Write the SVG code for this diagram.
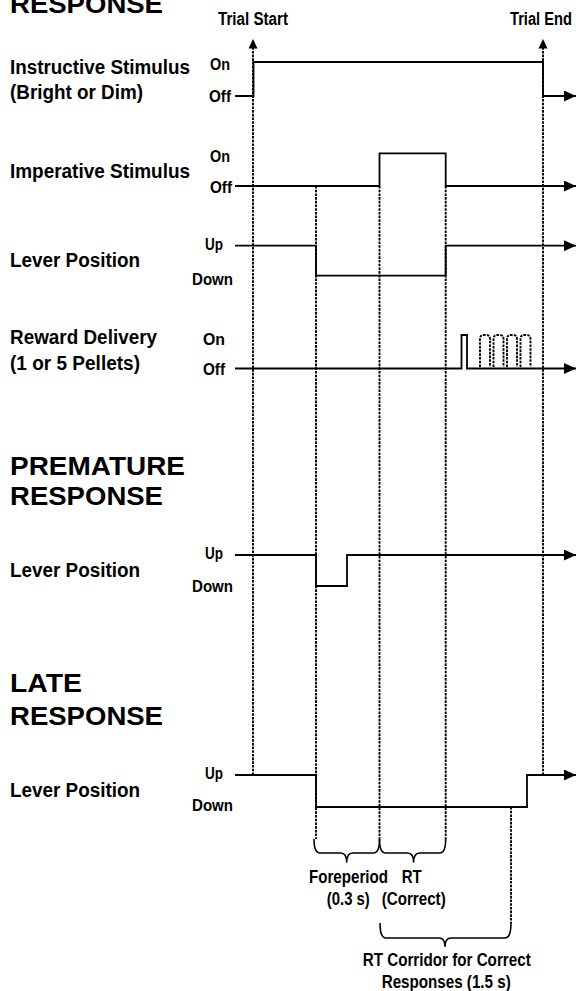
<svg xmlns="http://www.w3.org/2000/svg" width="576" height="991" viewBox="0 0 576 991">
<style>
text{font-family:"Liberation Sans",Arial,sans-serif;font-weight:bold;fill:#000}
.h{font-size:26px}
.l{font-size:20px}
.s{font-size:16px}
.t{font-size:17.5px}
.sig{fill:none;stroke:#000;stroke-width:1.8;marker-end:url(#ar)}
.dash{fill:none;stroke:#000;stroke-width:1.9;stroke-dasharray:2.6 1.1}
.br{fill:none;stroke:#000;stroke-width:1.6}
</style>
<defs>
<marker id="ar" viewBox="0 0 12 11" refX="12" refY="5.5" markerWidth="12" markerHeight="11" markerUnits="userSpaceOnUse" orient="auto">
<path d="M0,0 L12,5.5 L0,11 Z" fill="#000"/>
</marker>
<marker id="au" viewBox="0 0 9 9" refX="9" refY="4.5" markerWidth="9" markerHeight="9" markerUnits="userSpaceOnUse" orient="auto">
<path d="M0,0 L9,4.5 L0,9 Z" fill="#000"/>
</marker>
</defs>
<rect width="576" height="991" fill="#fff"/>

<g id="connectors">
<path class="dash" d="M253,775 V48"/>
<path d="M248.5,48.5 L253,39 L257.5,48.5 Z" fill="#000"/>
<path class="dash" d="M543,775 V48"/>
<path d="M538.5,48.5 L543,39 L547.5,48.5 Z" fill="#000"/>
<path class="dash" d="M316,186 V839"/>
<path class="dash" d="M379.5,186 V839"/>
<path class="dash" d="M445.7,186 V839"/>
<path class="dash" d="M511,807 V923"/>
</g>

<g id="headings">
<text class="h" x="10" y="13" textLength="153" lengthAdjust="spacingAndGlyphs">RESPONSE</text>
<text class="t" x="253" y="25" text-anchor="middle" textLength="70" lengthAdjust="spacingAndGlyphs">Trial Start</text>
<text class="t" x="541" y="25" text-anchor="middle" textLength="62" lengthAdjust="spacingAndGlyphs">Trial End</text>
</g>

<g id="instructive">
<text class="l" x="10" y="74" textLength="180" lengthAdjust="spacingAndGlyphs">Instructive Stimulus</text>
<text class="l" x="10" y="98.5" textLength="133" lengthAdjust="spacingAndGlyphs">(Bright or Dim)</text>
<text class="s" x="210" y="70" textLength="20" lengthAdjust="spacingAndGlyphs">On</text>
<text class="s" x="209" y="101.5" textLength="22" lengthAdjust="spacingAndGlyphs">Off</text>
<path class="sig" d="M235,96 H253.5 V62 H543 V96 H576"/>
</g>

<g id="imperative">
<text class="l" x="10" y="178" textLength="180" lengthAdjust="spacingAndGlyphs">Imperative Stimulus</text>
<text class="s" x="210" y="161.5" textLength="20" lengthAdjust="spacingAndGlyphs">On</text>
<text class="s" x="210" y="193" textLength="22" lengthAdjust="spacingAndGlyphs">Off</text>
<path class="sig" d="M235,186 H379.5 V153.3 H445.7 V186 H576"/>
</g>

<g id="lever">
<text class="l" x="10" y="267" textLength="130" lengthAdjust="spacingAndGlyphs">Lever Position</text>
<text class="s" x="205" y="250" textLength="18" lengthAdjust="spacingAndGlyphs">Up</text>
<text class="s" x="192" y="285" textLength="41" lengthAdjust="spacingAndGlyphs">Down</text>
<path class="sig" d="M235,245.7 H316 V275.7 H445.7 V245.7 H576"/>
</g>

<g id="reward">
<text class="l" x="10" y="344" textLength="147" lengthAdjust="spacingAndGlyphs">Reward Delivery</text>
<text class="l" x="10" y="370" textLength="130" lengthAdjust="spacingAndGlyphs">(1 or 5 Pellets)</text>
<text class="s" x="203" y="345" textLength="22" lengthAdjust="spacingAndGlyphs">On</text>
<text class="s" x="203" y="375" textLength="22" lengthAdjust="spacingAndGlyphs">Off</text>
<path class="sig" d="M235,368.5 H461.5 V335 H467 V368.5 H576"/>
<path class="dash" d="M480,367 V339 Q480,335 484,335 H486 Q490,335 490,339 V367"/>
<path class="dash" d="M493.5,367 V339 Q493.5,335 497.5,335 H499.5 Q503.5,335 503.5,339 V367"/>
<path class="dash" d="M507,367 V339 Q507,335 511,335 H513 Q517,335 517,339 V367"/>
<path class="dash" d="M520.5,367 V339 Q520.5,335 524.5,335 H526.5 Q530.5,335 530.5,339 V367"/>
</g>

<g id="premature">
<text class="h" x="10" y="475" textLength="175" lengthAdjust="spacingAndGlyphs">PREMATURE</text>
<text class="h" x="10" y="505" textLength="153" lengthAdjust="spacingAndGlyphs">RESPONSE</text>
<text class="l" x="10" y="577" textLength="130" lengthAdjust="spacingAndGlyphs">Lever Position</text>
<text class="s" x="205" y="558.5" textLength="18" lengthAdjust="spacingAndGlyphs">Up</text>
<text class="s" x="192" y="591.5" textLength="41" lengthAdjust="spacingAndGlyphs">Down</text>
<path class="sig" d="M235,555 H316 V586 H347 V555 H576"/>
</g>

<g id="late">
<text class="h" x="10" y="691.5" textLength="72" lengthAdjust="spacingAndGlyphs">LATE</text>
<text class="h" x="10" y="725" textLength="153" lengthAdjust="spacingAndGlyphs">RESPONSE</text>
<text class="l" x="10" y="797" textLength="130" lengthAdjust="spacingAndGlyphs">Lever Position</text>
<text class="s" x="205" y="778.5" textLength="18" lengthAdjust="spacingAndGlyphs">Up</text>
<text class="s" x="192" y="810.5" textLength="41" lengthAdjust="spacingAndGlyphs">Down</text>
<path class="sig" d="M235,775 H316 V807 H527 V775 H576"/>
</g>

<g id="foreperiod">
<path class="br" d="M314,839 Q314,853 320,853 H340.7 Q346.7,853 346.7,862.5 Q346.7,853 352.7,853 H373.5 Q379.5,853 379.5,839"/>
<text class="t" x="348.5" y="883" text-anchor="middle" textLength="79" lengthAdjust="spacingAndGlyphs">Foreperiod</text>
<text class="t" x="348.3" y="905" text-anchor="middle" textLength="43" lengthAdjust="spacingAndGlyphs">(0.3 s)</text>
</g>

<g id="rt">
<path class="br" d="M379.5,839 Q379.5,853 385.5,853 H407.6 Q413.6,853 413.6,862.5 Q413.6,853 419.6,853 H439.7 Q445.7,853 445.7,839"/>
<text class="t" x="411.7" y="883" text-anchor="middle" textLength="20" lengthAdjust="spacingAndGlyphs">RT</text>
<text class="t" x="413.7" y="905" text-anchor="middle" textLength="64" lengthAdjust="spacingAndGlyphs">(Correct)</text>
</g>

<g id="corridor">
<path class="br" d="M380,923 Q380,938 386,938 H439 Q445,938 445,946.7 Q445,938 451,938 H505 Q511,938 511,923"/>
<text class="t" x="446.7" y="966" text-anchor="middle" textLength="168" lengthAdjust="spacingAndGlyphs">RT Corridor for Correct</text>
<text class="t" x="446.2" y="988" text-anchor="middle" textLength="129" lengthAdjust="spacingAndGlyphs">Responses (1.5 s)</text>
</g>
</svg>
